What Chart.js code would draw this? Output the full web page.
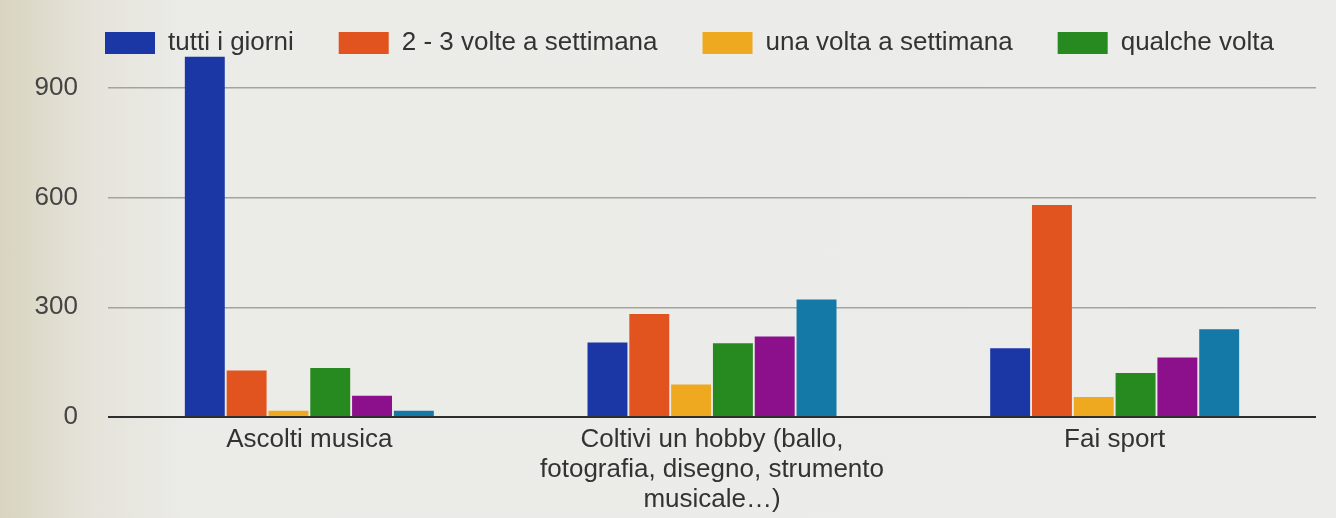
<!DOCTYPE html>
<html lang="it">
<head>
<meta charset="UTF-8">
<title>Attività nel tempo libero</title>
<script src="https://cdn.jsdelivr.net/npm/chart.js"></script>
<style>
    html, body {
        margin: 0;
        padding: 0;
    }
    body {
        width: 1336px;
        height: 518px;
        overflow: hidden;
        background: linear-gradient(to right, #d9d4bf 0%, #e4e2d8 6%, #ebebe8 14%, #ececea 100%);
    }
    .chart-box {
        position: relative;
        width: 1336px;
        height: 518px;
    }
</style>
</head>
<body>
<div class="chart-box">
    <canvas id="grafico"></canvas>
</div>
<script>
    // categorie sull'asse x (etichette su più righe dove serve)
    const categorie = [
        'Ascolti musica',
        ['Coltivi un hobby (ballo,', 'fotografia, disegno, strumento', 'musicale…)'],
        'Fai sport'
    ];

    const serie = ['tutti i giorni', '2 - 3 volte a settimana', 'una volta a settimana', 'qualche volta', 'raramente', 'mai'];

    const tuttiGiorni   = [985, 204, 188];
    const dueTreVolte   = [127, 282, 580];
    const unaVolta      = [17, 89, 55];
    const qualcheVolta  = [134, 202, 120];
    const raramente     = [58, 220, 163];
    const mai           = [17, 321, 240];

    const tickY = [0, 300, 600, 900];

    const colori = ['#1b37a6', '#e1541f', '#efa920', '#268a20', '#8c0f8c', '#1479a6'];
    const valori = [tuttiGiorni, dueTreVolte, unaVolta, qualcheVolta, raramente, mai];

    // solo le prime quattro voci stanno nella legenda
    const vociLegenda = 4;

    const FONT = 'Liberation Sans, Arial, sans-serif';

    // la legenda parte allineata sopra l'area del grafico, non dal bordo
    const spostaLegenda = {
        id: 'spostaLegenda',
        afterLayout(chart) {
            chart.legend.left += 60;
            chart.legend.right += 60;
        }
    };

    const ctx = document.getElementById('grafico').getContext('2d');

    const grafico = new Chart(ctx, {
        type: 'bar',
        data: {
            labels: categorie,
            datasets: serie.map((nome, i) => ({
                label: nome,
                data: valori[i],
                backgroundColor: colori[i],
                borderWidth: 0,
                categoryPercentage: 0.623,
                barPercentage: 0.955
            }))
        },
        options: {
            responsive: true,
            maintainAspectRatio: false,
            animation: false,
            layout: {
                padding: { top: -15, left: 0, right: 20, bottom: 0 }
            },
            plugins: {
                tooltip: { enabled: false },
                legend: {
                    position: 'top',
                    align: 'start',
                    maxHeight: 70,
                    labels: {
                        boxWidth: 50,
                        boxHeight: 22,
                        padding: 45,
                        color: '#333',
                        font: { family: FONT, size: 26 },
                        filter: (item) => item.datasetIndex < vociLegenda
                    }
                }
            },
            scales: {
                x: {
                    grid: { display: false },
                    border: { display: false },
                    afterFit: (scale) => { scale.height = 101; },
                    ticks: {
                        color: '#333',
                        padding: 0,
                        maxRotation: 0,
                        autoSkip: false,
                        font: { family: FONT, size: 26, lineHeight: 1.15 }
                    }
                },
                y: {
                    min: 0,
                    max: 990,
                    border: { display: false },
                    afterFit: (scale) => { scale.width = 108; },
                    afterBuildTicks: (scale) => {
                        scale.ticks = tickY.map(v => ({ value: v }));
                    },
                    grid: {
                        drawTicks: false,
                        color: (c) => c.tick.value === 0 ? '#2e2e2e' : '#a3a3a0',
                        lineWidth: (c) => c.tick.value === 0 ? 2 : 1.5
                    },
                    ticks: {
                        color: '#444',
                        padding: 30,
                        font: { family: FONT, size: 26 }
                    }
                }
            }
        },
        plugins: [spostaLegenda]
    });
</script>
</body>
</html>
